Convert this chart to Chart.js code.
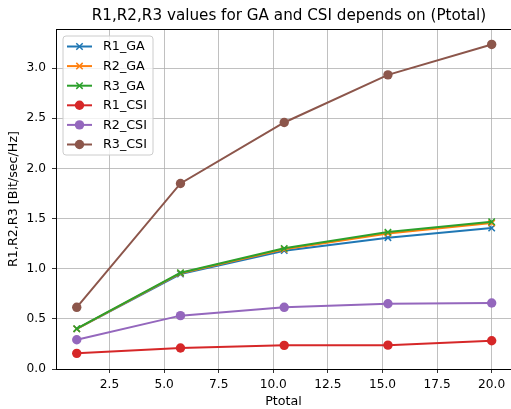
<!DOCTYPE html>
<html>
<head>
<meta charset="utf-8">
<script src="https://cdn.jsdelivr.net/npm/chart.js@4"></script>
<style>
html,body{margin:0;padding:0;background:#fff;}
canvas{display:block;}
</style>
</head>
<body>
<canvas id="c" width="511" height="409"></canvas>
<script>
const xValues = [1, 5.75, 10.5, 15.25, 20];
const r1GA = [0.400, 0.947, 1.180, 1.309, 1.405];
const r2GA = [0.400, 0.955, 1.193, 1.352, 1.455];
const r3GA = [0.402, 0.960, 1.203, 1.365, 1.468];
const r1CSI = [0.156, 0.209, 0.236, 0.238, 0.282];
const r2CSI = [0.292, 0.532, 0.615, 0.651, 0.658];
const r3CSI = [0.615, 1.850, 2.458, 2.933, 3.236];
const seriesNames = ['R1_GA', 'R2_GA', 'R3_GA', 'R1_CSI', 'R2_CSI', 'R3_CSI'];
const seriesValues = [r1GA, r2GA, r3GA, r1CSI, r2CSI, r3CSI];
const seriesColors = ['#1f77b4', '#ff7f0e', '#2ca02c', '#d62728', '#9467bd', '#8c564b'];
const seriesMarkers = ['x', 'x', 'x', 'o', 'o', 'o'];
const xTicks = [2.5, 5.0, 7.5, 10.0, 12.5, 15.0, 17.5, 20.0];
const yTicks = [0.0, 0.5, 1.0, 1.5, 2.0, 2.5, 3.0];
const titleText = 'R1,R2,R3 values for GA and CSI depends on (Ptotal)';
const xLabel = 'Ptotal';
const yLabel = 'R1,R2,R3 [Bit/sec/Hz]';

const FONT = "'DejaVu Sans', sans-serif";
const TICK_SIZE = 12.2;
const LABEL_SIZE = 12.7;
const TITLE_SIZE = 15.2;

const datasets = seriesNames.map((name, i) => ({
  label: name,
  data: xValues.map((x, j) => ({x: x, y: seriesValues[i][j]})),
  borderColor: seriesColors[i],
  backgroundColor: seriesColors[i],
  borderWidth: 2,
  pointStyle: seriesMarkers[i] === 'x' ? 'crossRot' : 'circle',
  pointRadius: seriesMarkers[i] === 'x' ? 4.5 : 4.7,
  pointBorderWidth: seriesMarkers[i] === 'x' ? 1.5 : 0,
  pointBorderColor: seriesColors[i],
  pointBackgroundColor: seriesColors[i],
  tension: 0,
  fill: false,
  order: seriesNames.length - i
}));

const decorPlugin = {
  id: 'decor',
  afterDraw(chart) {
    const ctx = chart.ctx;
    const a = chart.chartArea;
    ctx.save();
    // top spine
    ctx.strokeStyle = '#000';
    ctx.lineWidth = 1;
    ctx.beginPath();
    ctx.moveTo(a.left, a.top + 0.5);
    ctx.lineTo(a.right, a.top + 0.5);
    ctx.stroke();
    // title
    ctx.fillStyle = '#000';
    ctx.font = TITLE_SIZE + 'px ' + FONT;
    ctx.textAlign = 'center';
    ctx.textBaseline = 'middle';
    ctx.fillText(titleText, 289, 16.5);
    // legend
    const bx = 63, by = 36, bw = 90, bh = 119, r = 3;
    ctx.fillStyle = 'rgba(255,255,255,0.8)';
    ctx.strokeStyle = '#cccccc';
    ctx.lineWidth = 1;
    ctx.beginPath();
    ctx.moveTo(bx + r, by);
    ctx.lineTo(bx + bw - r, by);
    ctx.quadraticCurveTo(bx + bw, by, bx + bw, by + r);
    ctx.lineTo(bx + bw, by + bh - r);
    ctx.quadraticCurveTo(bx + bw, by + bh, bx + bw - r, by + bh);
    ctx.lineTo(bx + r, by + bh);
    ctx.quadraticCurveTo(bx, by + bh, bx, by + bh - r);
    ctx.lineTo(bx, by + r);
    ctx.quadraticCurveTo(bx, by, bx + r, by);
    ctx.closePath();
    ctx.fill();
    ctx.stroke();
    ctx.font = LABEL_SIZE + 'px ' + FONT;
    ctx.textAlign = 'left';
    for (let i = 0; i < seriesNames.length; i++) {
      const y = 46.5 + i * 19.6;
      const c = seriesColors[i];
      ctx.strokeStyle = c;
      ctx.fillStyle = c;
      ctx.lineWidth = 2;
      ctx.beginPath();
      ctx.moveTo(67, y);
      ctx.lineTo(92, y);
      ctx.stroke();
      if (seriesMarkers[i] === 'x') {
        ctx.lineWidth = 1.5;
        const d = 3.2;
        ctx.beginPath();
        ctx.moveTo(79.5 - d, y - d); ctx.lineTo(79.5 + d, y + d);
        ctx.moveTo(79.5 - d, y + d); ctx.lineTo(79.5 + d, y - d);
        ctx.stroke();
      } else {
        ctx.beginPath();
        ctx.arc(79.5, y, 4.7, 0, Math.PI * 2);
        ctx.fill();
      }
      ctx.fillStyle = '#000';
      ctx.fillText(seriesNames[i], 103, y + 0.5);
    }
    ctx.restore();
  }
};

new Chart(document.getElementById('c'), {
  type: 'line',
  data: { datasets: datasets },
  options: {
    responsive: false,
    animation: false,
    devicePixelRatio: 1,
    layout: { autoPadding: false, padding: { top: 29, left: 0, right: 0, bottom: 0 } },
    plugins: {
      legend: { display: false },
      title: { display: false },
      tooltip: { enabled: false }
    },
    scales: {
      x: {
        type: 'linear',
        min: 0.05,
        max: 20.885,
        afterBuildTicks: s => { s.ticks = xTicks.map(v => ({value: v})); },
        afterFit: s => { s.height = 40; },
        ticks: {
          color: '#000',
          font: { family: FONT, size: TICK_SIZE },
          padding: 5,
          maxRotation: 0,
          autoSkip: false,
          callback: v => Number(v).toFixed(1)
        },
        grid: { color: '#b0b0b0', lineWidth: 0.8, tickColor: '#000', tickLength: 4, drawTicks: true },
        border: { color: '#000', width: 1 },
        title: { display: true, text: xLabel, color: '#000', font: { family: FONT, size: LABEL_SIZE }, padding: { top: 0, bottom: 0 } }
      },
      y: {
        type: 'linear',
        min: 0,
        max: 3.39,
        afterBuildTicks: s => { s.ticks = yTicks.map(v => ({value: v})); },
        afterFit: s => { s.width = 56; },
        ticks: {
          color: '#000',
          font: { family: FONT, size: TICK_SIZE },
          padding: 6,
          autoSkip: false,
          callback: v => Number(v).toFixed(1)
        },
        grid: { color: '#b0b0b0', lineWidth: 0.8, tickColor: '#000', tickLength: 4, drawTicks: true },
        border: { color: '#000', width: 1 },
        title: { display: true, text: yLabel, color: '#000', font: { family: FONT, size: LABEL_SIZE }, padding: { top: 6, bottom: 0 } }
      }
    }
  },
  plugins: [decorPlugin]
});
</script>
</body>
</html>
